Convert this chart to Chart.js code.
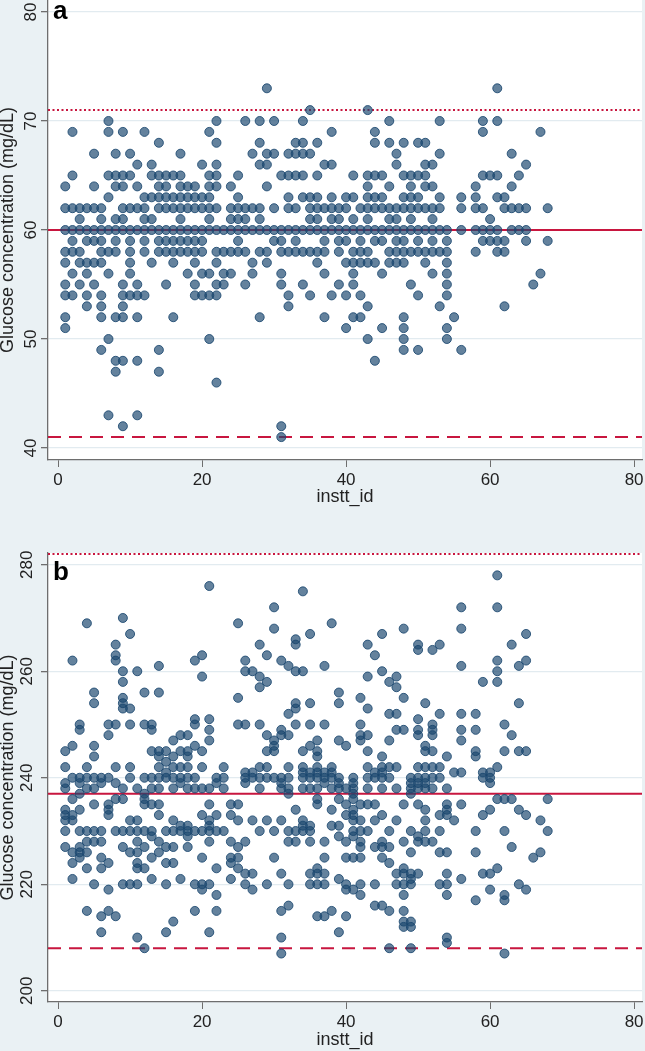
<!DOCTYPE html>
<html>
<head>
<meta charset="utf-8">
<script src="https://cdn.jsdelivr.net/npm/chart.js@4.4.1/dist/chart.umd.min.js"></script>
<style>
  html, body { margin: 0; padding: 0; background: #eaf1f4; }
  .panel { position: absolute; left: 0; width: 645px; }
  #panelA { top: 0; height: 515px; }
  #panelB { top: 515px; height: 536px; }
</style>
</head>
<body>
<div class="panel" id="panelA"><canvas id="chartA" width="645" height="515"></canvas></div>
<div class="panel" id="panelB"><canvas id="chartB" width="645" height="536"></canvas></div>
<script>
const FONT = '"Liberation Sans", Arial, sans-serif';

// x axis (institution id) ticks, shared by both panels
const xTicks = [0, 20, 40, 60, 80];

// panel a: y ticks and reference lines (mean, upper limit, lower limit)
const yTicksA = [40, 50, 60, 70, 80];
const refLinesA = [60, 71, 41];

// panel b
const yTicksB = [200, 220, 240, 260, 280];
const refLinesB = [237, 282, 208];

// glucose results per institution, index 0 = instt_id 1
const glucoseA = [
  [51,52,54,55,57,58,60,62,64],
  [54,56,58,59,60,62,65,69],
  [55,57,58,60,61,62],
  [53,54,56,57,59,60,62],
  [55,57,59,60,62,64,67],
  [49,52,53,54,57,58,59,60,61,62],
  [43,50,56,58,60,63,65,69,70],
  [47,48,52,58,59,60,61,64,65,67],
  [42,48,52,53,54,55,60,61,62,64,65,69],
  [54,56,57,58,59,60,62,65,67],
  [43,48,52,54,55,60,62,64,66],
  [54,58,59,60,61,62,63,69],
  [57,60,61,63,65,66],
  [47,49,58,59,60,62,63,64,65,68],
  [55,58,59,60,62,63,64,65],
  [52,57,58,59,60,62,63,65],
  [58,59,60,61,62,63,64,65,67],
  [56,58,59,60,62,63,64],
  [54,55,57,58,59,60,62,63,64],
  [54,56,58,59,60,62,63,66],
  [50,54,56,60,61,62,63,64,65,69],
  [46,54,55,57,58,60,62,64,65,66,68,70],
  [55,56,58,60],
  [56,58,60,61,62,64],
  [58,59,60,61,62,63,65],
  [55,58,60,61,62,70],
  [56,57,60,62,67],
  [52,58,60,61,62,66,68,70],
  [57,58,60,64,66,67,73],
  [59,60,62,67,70],
  [41,42,55,56,58,59,60,65],
  [53,54,58,60,62,63,65,67],
  [58,59,60,62,65,67,68],
  [55,58,60,63,65,67,68,70],
  [54,58,60,61,62,63,67,71],
  [57,58,60,61,62,63,65,68],
  [52,56,58,59,60,62,66],
  [54,60,61,62,63,66,69],
  [55,58,59,60,61,62],
  [51,54,57,59,60,62,63],
  [52,55,56,57,58,60,61,63,65],
  [52,54,57,58,59,60,62],
  [50,53,57,58,60,61,62,63,64,65,71],
  [48,57,59,60,62,63,65,68,69],
  [51,56,59,60,62,63,65],
  [57,58,60,61,62,64,68,70],
  [57,58,59,60,61,62,66,67],
  [49,50,51,52,57,58,59,60,62,63,65,68],
  [55,58,60,61,62,63,64,65],
  [49,54,58,59,60,62,63,65,68],
  [57,58,60,62,64,65,66,68],
  [56,58,59,60,61,62,64,66],
  [53,58,60,62,63,67,70],
  [50,51,54,55,56,57,58,59,60],
  [52],
  [49,60,62,63],
  [],
  [58,60,62,63,64],
  [59,60,62,65,69,70],
  [59,60,61,65],
  [58,59,60,63,65,70,73],
  [53,58,59,62,63],
  [60,62,64,67],
  [60,62,65],
  [59,60,62,66],
  [55],
  [56,69],
  [59,62]
];

const glucoseB = [
  [227,230,232,233,234,238,239,242,245],
  [221,224,226,232,233,236,240,246,262],
  [225,226,227,230,234,237,239,240,249,250],
  [215,223,226,228,230,238,240,242,269],
  [220,228,230,235,238,240,244,246,254,256],
  [211,214,223,225,228,230,239,240],
  [215,219,224,233,234,235,240,248,250],
  [214,230,236,239,242,250,262,263,265],
  [220,227,230,236,238,253,254,255,258,260,270],
  [220,226,230,232,240,242,250,253,267],
  [210,220,223,224,226,228,230,232,238,260],
  [208,223,227,230,235,236,237,240,250,256],
  [221,225,229,230,235,238,240,245,249,250],
  [226,228,233,235,238,240,242,244,245,256,261],
  [211,220,224,227,230,240,241,243,245],
  [213,224,227,230,232,238,240,242,244,247],
  [221,230,231,239,240,242,245,248],
  [227,229,230,231,238,240,242,244,245,248],
  [215,220,230,238,240,246,250,251,262],
  [219,220,225,230,233,238,242,245,259,263],
  [211,220,228,230,231,232,235,238,247,249,251,276],
  [215,218,223,230,233,239,240],
  [230,238,240,242],
  [221,224,225,228,233,235],
  [223,225,227,232,235,250,255,269],
  [220,222,228,239,240,241,250,260,262],
  [219,222,232,240,241,260],
  [230,238,240,242,250,257,259,265],
  [220,232,240,242,245,248,258,263],
  [225,230,240,245,246,247,268,272],
  [207,210,215,222,232,238,239,240,248,249,262],
  [216,220,228,230,237,238,240,242,248,252,261],
  [228,230,234,250,253,254,260,265,266],
  [230,231,232,238,240,241,242,245,260,275],
  [220,222,228,230,231,238,240,241,246,250,254,267],
  [214,220,222,223,235,236,238,240,241,242,244,245,247],
  [214,220,222,225,228,239,240,241,250,261],
  [215,231,234,238,240,241,242,269],
  [211,221,229,231,236,238,239,240,247,254,256],
  [214,219,220,225,228,233,235,238,246],
  [219,225,229,230,232,233,234,236,237,238,239,240],
  [218,220,225,227,228,230,232,235,247,248,250,255],
  [230,235,238,240,242,245,248,253,259,265],
  [216,220,227,232,235,240,241,263],
  [216,225,227,228,233,238,240,241,242,244,260,267],
  [208,215,224,227,230,240,242,247,252,258],
  [220,222,232,238,242,249,252,257,259],
  [212,213,215,218,220,222,223,228,235,249,255,268],
  [208,212,213,220,221,222,226,230,237,238,239,240],
  [222,228,229,235,238,239,240,242,248,249,251,264,265],
  [228,230,232,234,238,239,240,242,245,246,254],
  [228,238,240,242,245,248,249,250,264],
  [220,226,230,233,240,242,252,265],
  [209,210,218,220,222,226,233,234,235,238,244],
  [232,241],
  [221,235,241,247,249,252,261,268,272],
  [],
  [217,226,230,244,245,249,252],
  [222,233,240,241,258],
  [219,222,234,239,240,241],
  [223,236,242,258,260,262,272,278],
  [207,217,218,230,236,245,250],
  [227,236,248,265],
  [220,234,245,254,261],
  [219,233,245,262,267],
  [225],
  [226,232],
  [230,236]
];

function toPoints(perInst) {
  return perInst.flatMap((vals, i) => vals.map(v => ({ x: i + 1, y: v })));
}

// white plot region on the blue-grey page
const plotBackground = {
  id: 'plotBackground',
  beforeDraw(chart) {
    const { ctx, chartArea: a } = chart;
    ctx.save();
    ctx.fillStyle = '#ffffff';
    ctx.fillRect(a.left, a.top, a.right - a.left, a.bottom - a.top);
    ctx.restore();
  }
};

// mean (solid), upper (dotted) and lower (dashed) limits
const refLines = {
  id: 'refLines',
  beforeDatasetsDraw(chart, args, opts) {
    const { ctx, chartArea: a, scales: { y } } = chart;
    const dashes = [[], [2, 2.5], [13, 8]];
    ctx.save();
    opts.values.forEach((v, i) => {
      const py = y.getPixelForValue(v);
      ctx.beginPath();
      ctx.strokeStyle = '#c8163f';
      ctx.lineWidth = 2;
      ctx.setLineDash(dashes[i]);
      ctx.moveTo(a.left, py);
      ctx.lineTo(a.right, py);
      ctx.stroke();
    });
    ctx.restore();
  }
};

const panelLabel = {
  id: 'panelLabel',
  afterDatasetsDraw(chart, args, opts) {
    const { ctx, chartArea: a } = chart;
    ctx.save();
    ctx.fillStyle = '#000';
    ctx.font = 'bold 26px ' + FONT;
    ctx.textBaseline = 'alphabetic';
    ctx.fillText(opts.text, a.left + 5, a.top + opts.dy);
    ctx.restore();
  }
};

function makeChart(id, perInst, yTicks, yMin, yMax, refs, label, padTop, xHeight, labelDy, xTitlePad) {
  return new Chart(document.getElementById(id), {
    type: 'scatter',
    data: {
      datasets: [{
        data: toPoints(perInst),
        backgroundColor: 'rgba(26, 71, 111, 0.68)',
        borderColor: 'rgba(26, 71, 111, 0.85)',
        borderWidth: 1,
        pointRadius: 4.5
      }]
    },
    options: {
      responsive: false,
      animation: false,
      layout: { autoPadding: false, padding: { left: 0, right: 3, top: padTop, bottom: 0 } },
      plugins: {
        legend: { display: false },
        tooltip: { enabled: false },
        refLines: { values: refs },
        panelLabel: { text: label, dy: labelDy }
      },
      scales: {
        x: {
          type: 'linear',
          min: -1.4,
          max: 81.1,
          afterBuildTicks: s => { s.ticks = xTicks.map(v => ({ value: v })); },
          afterFit: s => { s.height = xHeight; s.paddingLeft = 0; s.paddingRight = 0; },
          grid: { drawOnChartArea: false, tickLength: 7, tickColor: '#6e6e6e' },
          border: { color: '#6e6e6e', width: 1.3 },
          ticks: { autoSkip: false, maxRotation: 0, padding: 3, color: '#222', font: { family: FONT, size: 17 } },
          title: { display: true, text: 'instt_id', color: '#222', font: { family: FONT, size: 18 }, padding: { top: 0, bottom: xTitlePad } }
        },
        y: {
          type: 'linear',
          min: yMin,
          max: yMax,
          afterBuildTicks: s => { s.ticks = yTicks.map(v => ({ value: v })); },
          afterFit: s => { s.width = 48; s.paddingTop = 0; s.paddingBottom = 0; },
          grid: { color: '#e2ebf0', lineWidth: 1.3, tickLength: 7, tickColor: '#6e6e6e' },
          border: { color: '#6e6e6e', width: 1.3 },
          ticks: { minRotation: 90, maxRotation: 90, crossAlign: 'center', padding: 0, color: '#222', font: { family: FONT, size: 17 } },
          title: { display: true, text: 'Glucose concentration (mg/dL)', color: '#222', font: { family: FONT, size: 18 }, padding: { top: -3, bottom: 0 } }
        }
      }
    },
    plugins: [plotBackground, refLines, panelLabel]
  });
}

makeChart('chartA', glucoseA, yTicksA, 38.9, 81.1, refLinesA, 'a', 0, 55, 19, 7);
makeChart('chartB', glucoseB, yTicksB, 197.9, 282.2, refLinesB, 'b', 38, 49, 27, 0);
</script>
</body>
</html>
